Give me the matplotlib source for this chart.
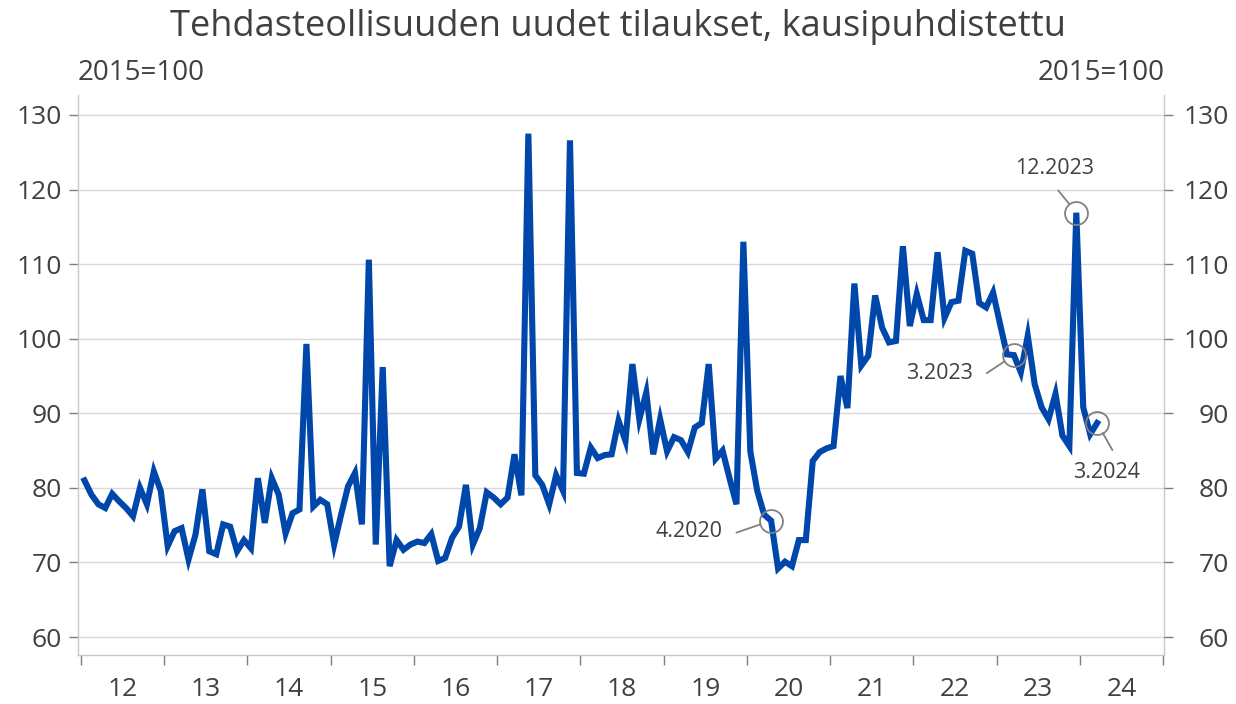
import matplotlib.pyplot as plt
import numpy as np

# Monthly new orders in manufacturing, seasonally adjusted (2015=100), 1.2012 - 3.2024
orders_2012 = [81.0, 79.1, 77.8, 77.3, 79.2, 78.2, 77.3, 76.2, 80.0, 77.8, 82.2, 79.6]
orders_2013 = [72.2, 74.2, 74.6, 70.4, 73.7, 79.8, 71.5, 71.1, 75.1, 74.8, 71.5, 73.0]
orders_2014 = [71.9, 81.3, 75.3, 81.3, 79.1, 73.9, 76.6, 77.1, 99.3, 77.5, 78.4, 77.8]
orders_2015 = [72.4, 76.4, 80.2, 82.0, 75.1, 110.6, 72.4, 96.2, 69.5, 73.0, 71.7, 72.4]
orders_2016 = [72.8, 72.6, 73.8, 70.2, 70.6, 73.3, 74.8, 80.4, 72.4, 74.6, 79.4, 78.7]
orders_2017 = [77.8, 78.7, 84.5, 79.0, 127.5, 81.7, 80.4, 77.8, 81.7, 79.6, 126.6, 82.0]
orders_2018 = [81.9, 85.4, 84.0, 84.4, 84.5, 89.0, 86.3, 96.6, 89.2, 92.8, 84.5, 89.2]
orders_2019 = [84.9, 86.8, 86.4, 84.8, 88.1, 88.7, 96.6, 83.9, 85.0, 81.3, 77.8, 113.0]
orders_2020 = [84.9, 79.6, 76.4, 75.6, 69.2, 70.1, 69.5, 73.0, 73.0, 83.6, 84.8, 85.3]
orders_2021 = [85.6, 95.0, 90.7, 107.4, 96.4, 97.7, 105.8, 101.5, 99.5, 99.7, 112.4, 101.7]
orders_2022 = [106.0, 102.5, 102.5, 111.6, 102.8, 104.9, 105.1, 111.8, 111.4, 104.8, 104.2, 106.2]
orders_2023 = [102.0, 97.9, 97.8, 95.5, 100.4, 93.9, 90.8, 89.2, 92.6, 87.0, 85.6, 116.9]
orders_2024 = [90.8, 87.2, 88.7]

orders = (orders_2012 + orders_2013 + orders_2014 + orders_2015 + orders_2016 +
          orders_2017 + orders_2018 + orders_2019 + orders_2020 + orders_2021 +
          orders_2022 + orders_2023 + orders_2024)
start_year = 2012

years = list(range(2012, 2026))
year_labels = ['12', '13', '14', '15', '16', '17', '18', '19', '20', '21', '22', '23', '24']
y_ticks = [60, 70, 80, 90, 100, 110, 120, 130]

# Highlighted months: (month index from 1.2012, label)
highlights = [(99, '4.2020'), (134, '3.2023'), (143, '12.2023'), (146, '3.2024')]

# month centers as decimal years
x = start_year + (np.arange(len(orders)) + 0.5) / 12

text_color = '#404040'
grid_color = '#d9d9d9'
line_color = '#0047ab'
plt.rcParams['font.family'] = ['Open Sans', 'DejaVu Sans']

fig = plt.figure(figsize=(12.36, 7.04), dpi=100)
ax = fig.add_axes([78 / 1236, 1 - 655 / 704, (1164 - 78) / 1236, (655 - 95) / 704])

ax.plot(x, orders, color=line_color, linewidth=4.4, solid_joinstyle='miter', zorder=3)

ax.set_xlim(2011.964, 2025.012)
ax.set_ylim(57.59, 132.68)

# grid and frame
ax.set_yticks(y_ticks)
ax.grid(axis='y', color=grid_color, linewidth=1.0)
ax.set_axisbelow(True)
for side in ['left', 'right', 'bottom']:
    ax.spines[side].set_color('#c8c8c8')
    ax.spines[side].set_linewidth(1.0)
ax.spines['top'].set_visible(False)

ax.tick_params(axis='y', length=6.5, width=1.0, color='#7f7f7f', pad=5,
               labelsize=19, labelcolor=text_color)

# right hand axis, labels right aligned
ax2 = ax.twinx()
ax2.set_ylim(ax.get_ylim())
ax2.set_yticks(y_ticks)
ax2.tick_params(axis='y', length=6.5, width=1.0, color='#7f7f7f', pad=40,
                labelsize=19, labelcolor=text_color)
plt.setp(ax2.get_yticklabels(), ha='right')
for side in ['left', 'right', 'bottom', 'top']:
    ax2.spines[side].set_visible(False)

# year boundaries as ticks, year labels in the middle of each year
ax.set_xticks(years)
ax.set_xticklabels([])
ax.set_xticks([y + 0.5 for y in years[:-1]], minor=True)
ax.set_xticklabels(year_labels, minor=True)
ax.tick_params(axis='x', which='major', length=7, width=1.0, color='#7f7f7f')
ax.tick_params(axis='x', which='minor', length=0, pad=16, labelsize=19, labelcolor=text_color)

# circled months with leader lines
# label -> line start offset, text offset, alignment (in points)
offsets = {
    '4.2020': ((-25, -8.6), (-35, -8), 'right'),
    '3.2023': ((-19.5, -13), (-29.5, -13), 'right'),
    '12.2023': ((-13, 16), (-16, 32), 'center'),
    '3.2024': ((11, -19.5), (7, -36), 'center'),
}
for month, label in highlights:
    hx, hy = x[month], orders[month]
    ax.plot(hx, hy, 'o', ms=16.5, mfc='none', mec='#808080', mew=1.3, zorder=4)
    line_off, text_off, align = offsets[label]
    ax.annotate('', xy=(hx, hy), xytext=line_off, textcoords='offset points',
                arrowprops=dict(arrowstyle='-', color='#808080', lw=1.3, shrinkA=0, shrinkB=8.3))
    ax.annotate(label, xy=(hx, hy), xytext=text_off, textcoords='offset points',
                ha=align, va='center', fontsize=15.5, color=text_color)

fig.text(0.5, 1 - 27 / 704, 'Tehdasteollisuuden uudet tilaukset, kausipuhdistettu',
         ha='center', va='center', fontsize=26, color=text_color)
fig.text(78 / 1236, 1 - 73 / 704, '2015=100', ha='left', va='center', fontsize=20, color=text_color)
fig.text(1165 / 1236, 1 - 73 / 704, '2015=100', ha='right', va='center', fontsize=20, color=text_color)

plt.savefig('out.png', dpi=100)
